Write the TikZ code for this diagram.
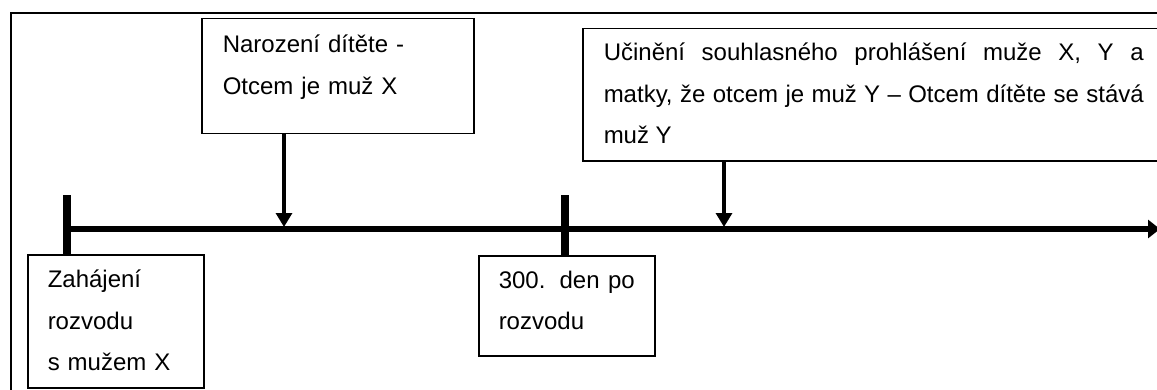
\documentclass[tikz,border=0pt]{standalone}
\usepackage{fontspec}
\setmainfont{Liberation Sans}
\usetikzlibrary{arrows.meta}
\tikzset{udalost/.style={draw, line width=0.75pt, anchor=north west, align=left,
  font=\fontsize{12}{20.75}\selectfont},
osa/.style={line width=3pt, -{Triangle[length=6pt, width=9pt]}},
sipka/.style={line width=1.6pt, -{Triangle[length=7pt, width=8pt]}},
znacka/.style={line width=4pt}}

\begin{document}
\begin{tikzpicture}[x=0.5pt, y=-0.5pt]
\useasboundingbox (0,0) rectangle (1157,390);

\draw[line width=0.75pt] (11,13) rectangle (1180,400);

\coordinate (start) at (67,229);
\coordinate (konec) at (1160,229);
\coordinate (start top) at (67,195);
\coordinate (t300 top) at (565,195);
\coordinate (nar) at (284,227);
\coordinate (proh) at (724,227);

\node[udalost, text width=115pt, inner xsep=10.5pt, inner ysep=2.5pt, text depth=37.85pt] (narozeni) at (201,18)
  {\strut Narození dítěte -\\Otcem je muž X};
\node[udalost, text width=270pt, inner xsep=10.5pt, inner ysep=1.5pt, text depth=48.6pt, align=justify] (prohlaseni) at (582,28)
  {\strut Učinění souhlasného prohlášení muže X, Y a\linebreak matky, že otcem je muž Y – Otcem dítěte se stává\linebreak muž Y};
\node[udalost, text width=68pt, inner xsep=10pt, inner ysep=2pt, text depth=48.1pt] (rozvod) at (27,254)
  {\strut Zahájení\\rozvodu\\s mužem X};
\node[udalost, text width=68pt, inner xsep=10pt, inner ysep=1.8pt, text depth=31.9pt, align=justify] (den300) at (478,255)
  {\strut 300. den po rozvodu};

\draw[osa] (start) -- (konec);
\draw[znacka] (start top) -- (start top |- rozvod.north);
\draw[znacka] (t300 top) -- (t300 top |- den300.north);

\draw[sipka] (nar |- narozeni.south) -- (nar);
\draw[sipka] (proh |- prohlaseni.south) -- (proh);

\end{tikzpicture}
\end{document}
